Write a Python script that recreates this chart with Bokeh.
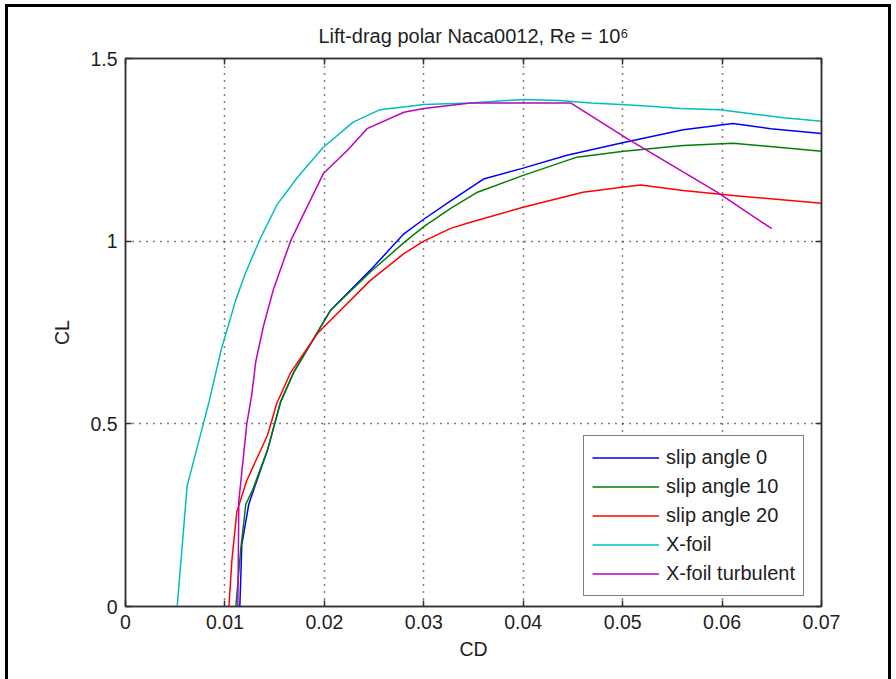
from bokeh.plotting import figure
from bokeh.models import Range1d, FixedTicker, LinearAxis, Legend, LegendItem, CustomJSTickFormatter
from bokeh.embed import file_html
from bokeh.resources import INLINE

# ---- data ----
cd_s0 = [0.0115, 0.0117, 0.0124, 0.0129, 0.0143, 0.0156, 0.0169, 0.0206, 0.0246, 0.0280, 0.0300,
         0.0327, 0.0360, 0.0400, 0.0444, 0.0501, 0.0561, 0.0611, 0.0649, 0.0700]
cl_s0 = [0.0, 0.17, 0.28, 0.32, 0.43, 0.56, 0.64, 0.81, 0.92, 1.02, 1.06,
         1.11, 1.17, 1.20, 1.235, 1.27, 1.305, 1.322, 1.308, 1.295]

cd_s10 = [0.0111, 0.0116, 0.0121, 0.0128, 0.0143, 0.0156, 0.0169, 0.0206, 0.0246, 0.0280, 0.0300,
          0.0327, 0.0354, 0.0400, 0.0454, 0.0501, 0.0561, 0.0611, 0.0662, 0.0700]
cl_s10 = [0.0, 0.16, 0.28, 0.32, 0.43, 0.56, 0.64, 0.81, 0.915, 0.996, 1.04,
          1.09, 1.134, 1.18, 1.23, 1.246, 1.262, 1.268, 1.256, 1.246]

cd_s20 = [0.0104, 0.0107, 0.0112, 0.0122, 0.0143, 0.0152, 0.0166, 0.0193, 0.0246, 0.0280, 0.0300,
          0.0327, 0.0347, 0.0400, 0.0460, 0.0501, 0.0518, 0.0561, 0.0611, 0.0700]
cl_s20 = [0.0, 0.126, 0.26, 0.345, 0.47, 0.555, 0.64, 0.747, 0.892, 0.966, 1.0,
          1.035, 1.052, 1.093, 1.134, 1.148, 1.154, 1.139, 1.125, 1.104]

cd_xf = [0.0052, 0.0062, 0.0084, 0.0096, 0.0111, 0.0121, 0.0136, 0.01525, 0.0173, 0.0199, 0.0229,
         0.0256, 0.0300, 0.0347, 0.0400, 0.0437, 0.0468, 0.0498, 0.0528, 0.0558, 0.0598, 0.0635,
         0.0662, 0.0700]
cl_xf = [0.0, 0.33, 0.56, 0.70, 0.84, 0.915, 1.01, 1.10, 1.175, 1.257, 1.326,
         1.36, 1.374, 1.378, 1.388, 1.385, 1.378, 1.374, 1.369, 1.363, 1.36, 1.347,
         1.338, 1.328]

cd_xt = [0.0113, 0.0114, 0.0122, 0.0127, 0.0131, 0.0139, 0.0149, 0.0166, 0.0176, 0.0199, 0.0223,
         0.0243, 0.0280, 0.0300, 0.0347, 0.0448, 0.0505, 0.0595, 0.0650]
cl_xt = [0.0, 0.29, 0.50, 0.58, 0.67, 0.77, 0.87, 1.0, 1.057, 1.185, 1.248,
         1.308, 1.353, 1.363, 1.378, 1.378, 1.28, 1.134, 1.034]

series_names = ["slip angle 0", "slip angle 10", "slip angle 20", "X-foil", "X-foil turbulent"]
series_colors = ["#0000FF", "#008000", "#FF0000", "#00BFBF", "#BF00BF"]

x_ticks = [0.0, 0.01, 0.02, 0.03, 0.04, 0.05, 0.06, 0.07]
x_tick_labels = ["0", "0.01", "0.02", "0.03", "0.04", "0.05", "0.06", "0.07"]
y_ticks = [0.0, 0.5, 1.0, 1.5]
y_tick_labels = ["0", "0.5", "1", "1.5"]

FONT = "Liberation Sans"
FS = "19.5px"
TXT = "#1e1e1e"
AX = "#333333"

p = figure(
    width=880, height=672,
    frame_width=696, frame_height=548,
    min_border_left=117, min_border_right=67, min_border_top=51, min_border_bottom=73,
    x_range=Range1d(0, 0.07), y_range=Range1d(0, 1.5),
    output_backend="svg", toolbar_location=None,
    title="Lift-drag polar Naca0012, Re = 10⁶",
)
p.styles = {"margin-left": "5px", "margin-top": "4px",
            "border-left": "3px solid black", "border-top": "3px solid black",
            "border-right": "3px solid black"}

p.title.align = "center"
p.title.text_font = FONT
p.title.text_font_size = "20px"
p.title.text_font_style = "normal"
p.title.text_color = TXT
p.title.standoff = 24

p.outline_line_color = AX
p.outline_line_width = 1.5

for ax, ticks, labels, lab in ((p.xaxis[0], x_ticks, x_tick_labels, "CD"),
                               (p.yaxis[0], y_ticks, y_tick_labels, "CL")):
    ax.ticker = FixedTicker(ticks=ticks)
    ax.major_label_overrides = {t: l for t, l in zip(ticks, labels)}
    ax.axis_label = lab
    ax.axis_label_text_font = FONT
    ax.axis_label_text_font_size = FS
    ax.axis_label_text_font_style = "normal"
    ax.axis_label_text_color = TXT
    ax.major_label_text_font = FONT
    ax.major_label_text_font_size = FS
    ax.major_label_text_color = TXT
    ax.major_tick_in = 6
    ax.major_tick_out = 0
    ax.minor_tick_line_color = None
    ax.axis_line_color = AX
    ax.axis_line_width = 1.5
    ax.major_tick_line_color = AX
    ax.major_tick_line_width = 1.5
    ax.major_label_standoff = 8

p.xaxis[0].axis_label_standoff = 6
p.yaxis[0].axis_label_standoff = 14

for loc, ticks in (("above", x_ticks), ("right", y_ticks)):
    a = LinearAxis(ticker=FixedTicker(ticks=ticks),
                   formatter=CustomJSTickFormatter(code="return '';"))
    a.major_label_standoff = 0
    a.major_tick_in = 6
    a.major_tick_out = 0
    a.minor_tick_line_color = None
    a.axis_line_color = AX
    a.axis_line_width = 1.5
    a.major_tick_line_color = AX
    a.major_tick_line_width = 1.5
    p.add_layout(a, loc)

for g in (p.xgrid[0], p.ygrid[0]):
    g.grid_line_color = "#000000"
    g.grid_line_dash = "1 6"
    g.grid_line_width = 1.5
p.xgrid[0].ticker = FixedTicker(ticks=x_ticks)
p.ygrid[0].ticker = FixedTicker(ticks=y_ticks)

xs = [cd_s0, cd_s10, cd_s20, cd_xf, cd_xt]
ys = [cl_s0, cl_s10, cl_s20, cl_xf, cl_xt]
items = []
for x, y, name, col in zip(xs, ys, series_names, series_colors):
    r = p.line(x, y, line_color=col, line_width=1.5)
    items.append(LegendItem(label=name, renderers=[r]))

leg = Legend(items=items, location=(458, 10))
leg.label_text_font = FONT
leg.label_text_font_size = "20px"
leg.label_text_color = TXT
leg.glyph_width = 67
leg.glyph_height = 27
leg.label_height = 27
leg.spacing = 2
leg.padding = 8
leg.label_standoff = 7
leg.border_line_color = "#000000"
leg.border_line_width = 1.5
leg.background_fill_color = "white"
leg.background_fill_alpha = 1.0
p.add_layout(leg, "center")

open("out.html", "w").write(file_html(p, INLINE))
